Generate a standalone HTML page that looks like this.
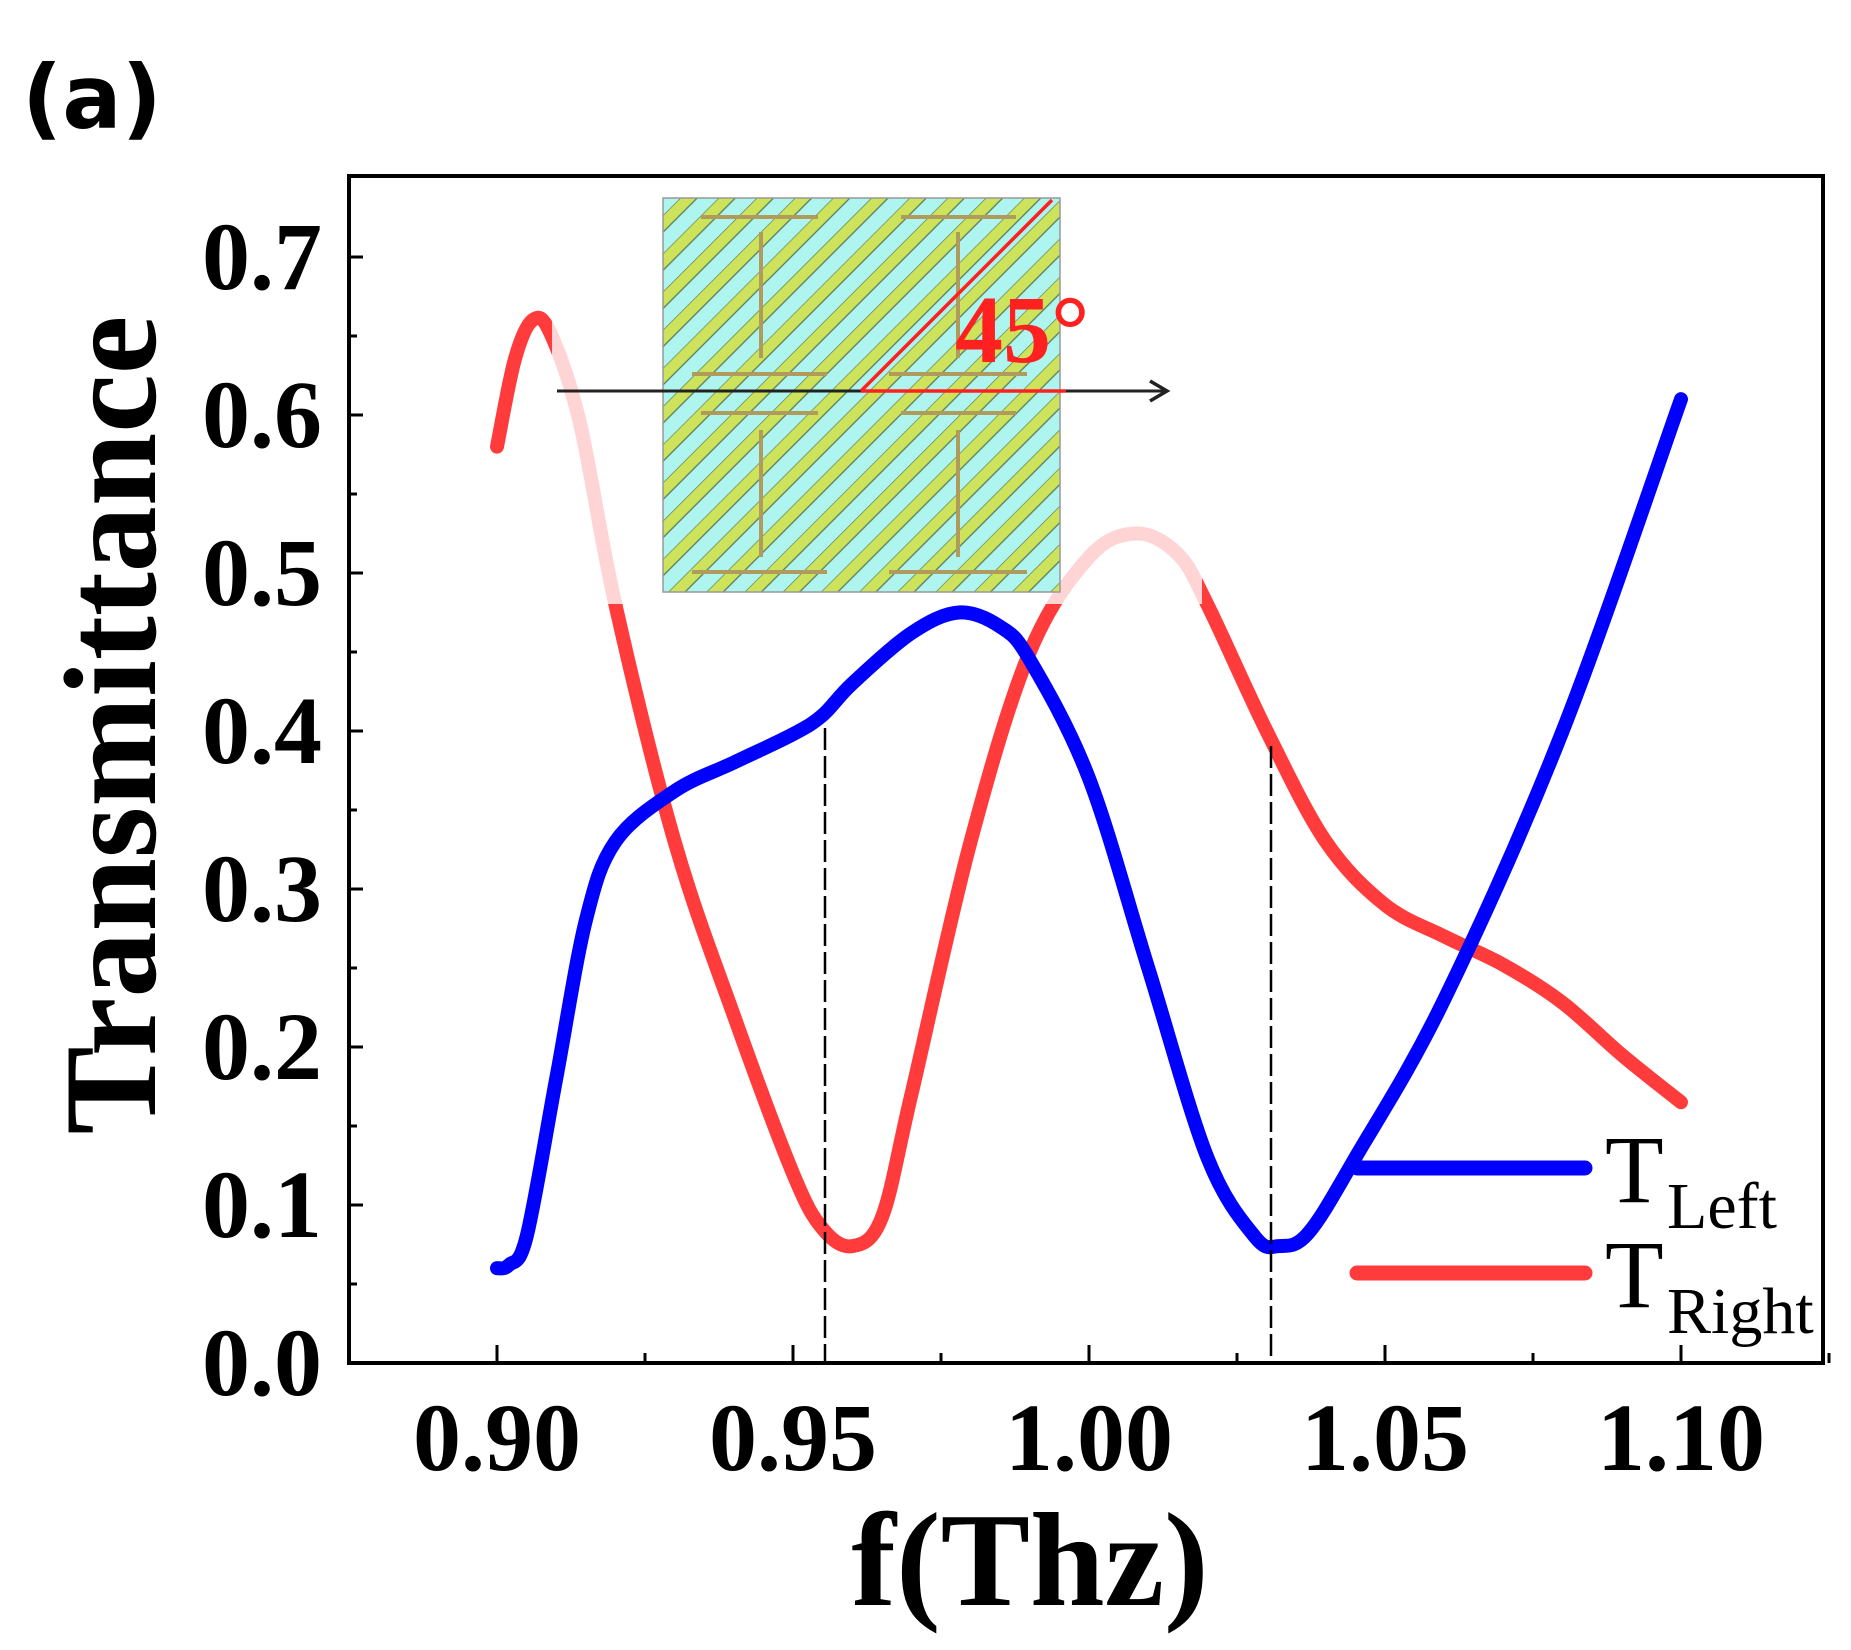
<!DOCTYPE html>
<html><head><meta charset="utf-8"><style>
html,body{margin:0;padding:0;background:#fff;}
svg{display:block;}
</style></head><body>
<svg width="1851" height="1650" viewBox="0 0 1851 1650" xmlns="http://www.w3.org/2000/svg">
<defs>
<pattern id="st" patternUnits="userSpaceOnUse" width="27" height="27" patternTransform="rotate(45)">
<rect width="27" height="27" fill="#aef5ef"/>
<rect x="0" y="0" width="12" height="27" fill="#cde35c"/>
<line x1="0" y1="0" x2="0" y2="27" stroke="#5a7a5a" stroke-width="1.3"/>
<line x1="12" y1="0" x2="12" y2="27" stroke="#5a7a5a" stroke-width="1.3"/>
</pattern>
</defs>
<text x="22" y="128" style="font-family:'DejaVu Sans','Liberation Sans',sans-serif;font-weight:bold;font-size:88px">(a)</text>
<g fill="none" stroke-linecap="round" stroke-linejoin="round" stroke-width="14">
<path id="red" stroke="#ff3b3b" d=""/>
<path id="blue" stroke="#0000ff" d=""/>
</g>
<rect x="552" y="180" width="650" height="424" fill="#fff" opacity="0.78"/>
<g stroke="#000" stroke-width="2.5" stroke-dasharray="22,6">
<line x1="825" y1="728" x2="825" y2="1363"/>
<line x1="1271" y1="746" x2="1271" y2="1363"/>
</g>
<rect x="663" y="198" width="397" height="394" fill="url(#st)" stroke="#999" stroke-width="1.5"/>
<g stroke="#b09a5c" stroke-width="4">
<line x1="701" y1="217" x2="818" y2="217"/><line x1="901" y1="217" x2="1016" y2="217"/>
<line x1="761" y1="232" x2="761" y2="358"/><line x1="958" y1="232" x2="958" y2="358"/>
<line x1="692" y1="374" x2="827" y2="374"/><line x1="889" y1="374" x2="1027" y2="374"/>
<line x1="701" y1="413" x2="818" y2="413"/><line x1="901" y1="413" x2="1016" y2="413"/>
<line x1="761" y1="430" x2="761" y2="557"/><line x1="958" y1="430" x2="958" y2="557"/>
<line x1="692" y1="572" x2="827" y2="572"/><line x1="889" y1="572" x2="1027" y2="572"/>
</g>
<line x1="557" y1="391" x2="1165" y2="391" stroke="#222" stroke-width="3"/>
<polyline points="1150,381 1167,391 1150,401" fill="none" stroke="#222" stroke-width="3.5"/>
<line x1="861" y1="391" x2="1066" y2="391" stroke="#ff2020" stroke-width="3.5"/>
<line x1="861" y1="391" x2="1052" y2="200" stroke="#ff2020" stroke-width="3.5"/>
<text x="955" y="362" style="font-family:'Liberation Serif',serif;font-weight:bold;font-size:96px" fill="#ff2020">45°</text>
<rect x="349" y="176" width="1474" height="1187" fill="none" stroke="#000" stroke-width="4"/>
<g id="ticks" stroke="#000" stroke-width="3"></g>
<g id="lbl" style="font-family:'Liberation Serif',serif;font-weight:bold;font-size:96px" fill="#000"></g>
<text x="1030" y="1605" text-anchor="middle" style="font-family:'Liberation Serif',serif;font-weight:bold;font-size:134px">f(Thz)</text>
<text transform="translate(155,725) rotate(-90)" text-anchor="middle" style="font-family:'Liberation Serif',serif;font-weight:bold;font-size:132px">Transmittance</text>
<line x1="1357" y1="1168" x2="1585" y2="1168" stroke="#0000ff" stroke-width="15" stroke-linecap="round"/>
<line x1="1357" y1="1273" x2="1585" y2="1273" stroke="#ff3b3b" stroke-width="15" stroke-linecap="round"/>
<text x="1605" y="1202" style="font-family:'Liberation Serif',serif;font-size:96px">T</text>
<text x="1667" y="1228" style="font-family:'Liberation Serif',serif;font-size:66px">Left</text>
<text x="1605" y="1307" style="font-family:'Liberation Serif',serif;font-size:96px">T</text>
<text x="1667" y="1333" style="font-family:'Liberation Serif',serif;font-size:66px">Right</text>
</svg>
<script>
function X(f){return 497+(f-0.9)/0.05*296;}
function Y(t){return 1363-t*1580;}
function path(pts){
 var p=pts.map(function(a){return [X(a[0]),Y(a[1])];});
 var d="M"+p[0][0]+","+p[0][1];
 for(var i=0;i<p.length-1;i++){
  var p0=p[i-1]||p[i],p1=p[i],p2=p[i+1],p3=p[i+2]||p2;
  var c1=[p1[0]+(p2[0]-p0[0])/6,p1[1]+(p2[1]-p0[1])/6];
  var c2=[p2[0]-(p3[0]-p1[0])/6,p2[1]-(p3[1]-p1[1])/6];
  d+=" C"+c1+" "+c2+" "+p2;
 }
 return d;
}
var blue=[[0.90,0.06],[0.902,0.062],[0.905,0.08],[0.91,0.18],[0.915,0.28],[0.92,0.33],[0.93,0.362],[0.94,0.38],[0.95,0.398],[0.955,0.41],[0.96,0.43],[0.97,0.462],[0.978,0.475],[0.985,0.466],[0.99,0.445],[1.0,0.37],[1.01,0.25],[1.02,0.13],[1.028,0.08],[1.032,0.074],[1.037,0.082],[1.045,0.13],[1.06,0.23],[1.08,0.40],[1.10,0.61]];
var red=[[0.90,0.58],[0.903,0.635],[0.906,0.66],[0.909,0.652],[0.914,0.595],[0.92,0.48],[0.93,0.33],[0.94,0.22],[0.95,0.12],[0.955,0.085],[0.96,0.074],[0.965,0.092],[0.97,0.17],[0.98,0.33],[0.99,0.45],[1.0,0.51],[1.008,0.525],[1.015,0.512],[1.02,0.48],[1.03,0.40],[1.04,0.33],[1.05,0.29],[1.06,0.27],[1.07,0.252],[1.08,0.228],[1.09,0.195],[1.10,0.165]];
document.getElementById('blue').setAttribute('d',path(blue));
document.getElementById('red').setAttribute('d',path(red));
var t=document.getElementById('ticks'),l=document.getElementById('lbl'),ns="http://www.w3.org/2000/svg";
function ln(a,b,c,d){var e=document.createElementNS(ns,'line');e.setAttribute('x1',a);e.setAttribute('y1',b);e.setAttribute('x2',c);e.setAttribute('y2',d);t.appendChild(e);}
function tx(x,y,s,anc){var e=document.createElementNS(ns,'text');e.setAttribute('x',x);e.setAttribute('y',y);e.setAttribute('text-anchor',anc);e.textContent=s;l.appendChild(e);}
for(var i=0;i<=14;i++){var y=Y(i*0.05);ln(349,y,349+(i%2?8:14),y);if(i%2==0)tx(322,y+32,(i*0.05).toFixed(1),'end');}
for(var i=0;i<=9;i++){var x=X(0.9+i*0.025);ln(x,1363,x,1363-(i%2?10:18));if(i%2==0)tx(x,1470,(0.9+i*0.025).toFixed(2),'middle');}
</script>
</body></html>
